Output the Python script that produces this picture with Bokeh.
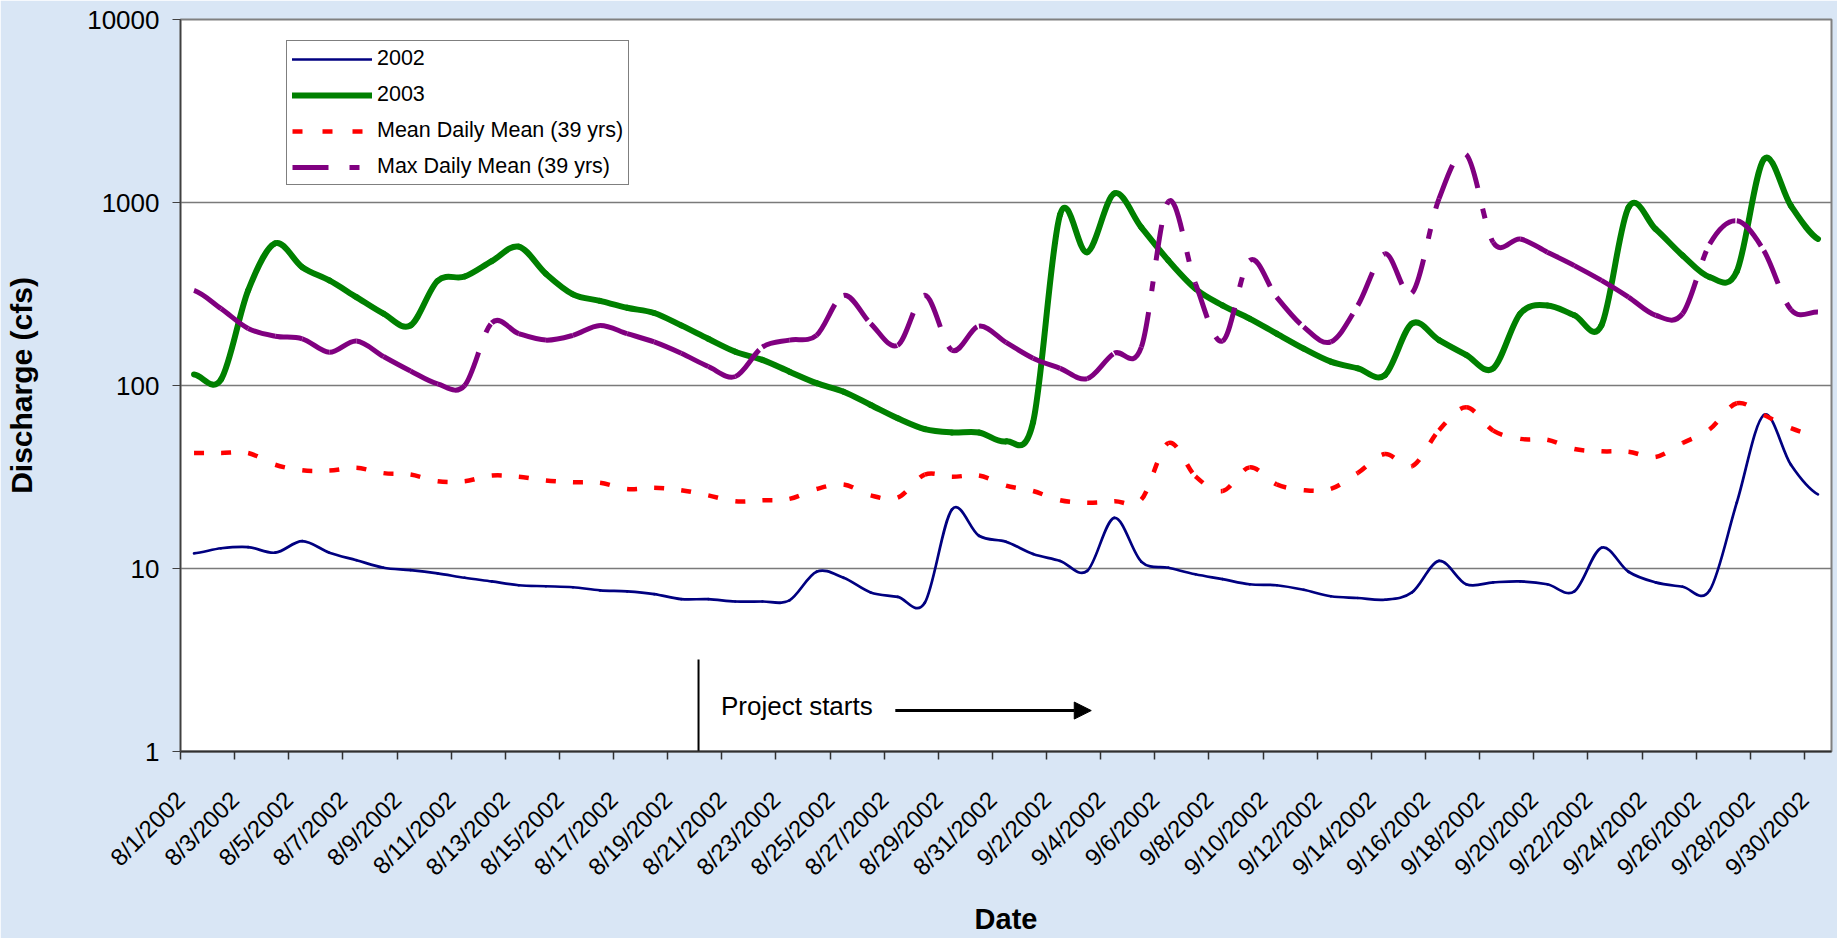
import math
import numpy as np
from bokeh.plotting import figure
from bokeh.models import (ColumnDataSource, Range1d, FixedTicker, NumeralTickFormatter,
                          Legend, LegendItem, Arrow, NormalHead, Label)
from bokeh.embed import file_html
from bokeh.resources import INLINE

# Daily dates, 1 Aug - 30 Sep 2002
dates = [f"8/{d}/2002" for d in range(1, 32)] + [f"9/{d}/2002" for d in range(1, 31)]

# Daily discharge (cfs)
flow_2002 = [12.1, 12.9, 13.1, 12.2, 14.1, 12.2, 11.1, 10.1, 9.8, 9.4,
             8.9, 8.5, 8.1, 8.0, 7.9, 7.6, 7.5, 7.25, 6.8, 6.8,
             6.6, 6.6, 6.7, 9.6, 8.9, 7.4, 7.0, 6.5, 21.0, 15.1,
             14.0, 12.0, 11.0, 9.7, 18.9, 10.9, 10.1, 9.3, 8.75, 8.2,
             8.1, 7.65, 7.05, 6.9, 6.75, 7.4, 11.0, 8.2, 8.4, 8.5,
             8.2, 7.5, 13.0, 9.6, 8.4, 7.95, 7.6, 22.9, 69.0, 36.9,
             25.4]

flow_2003 = [115, 108, 331, 598, 443, 375, 304, 247, 213, 373,
             394, 478, 574, 408, 315, 290, 266, 249, 213, 180,
             153, 138, 119, 103, 92.5, 78.3, 66.2, 57.8, 55.4, 55.4,
             49.5, 63.0, 860, 535, 1120, 731, 482, 338, 274, 232,
             192, 159, 135, 124, 114, 218, 177, 147, 124, 247,
             274, 242, 213, 940, 716, 513, 391, 420, 1720, 960,
             632]

mean_daily_mean = [42.8, 42.8, 42.8, 36.9, 34.4, 34.3, 35.5, 33.2, 32.6, 30.0,
                   30.0, 32.2, 31.7, 30.3, 29.6, 29.4, 27.2, 27.6, 26.8, 25.1,
                   23.3, 23.6, 24.0, 27.2, 28.8, 25.1, 24.4, 32.6, 31.7, 32.2,
                   28.4, 26.5, 23.6, 22.9, 23.3, 23.8, 48.5, 31.9, 26.5, 35.7,
                   28.8, 26.8, 27.2, 33.3, 42.2, 36.2, 57.0, 76.0, 56.7, 51.1,
                   50.5, 45.0, 43.7, 43.5, 40.7, 48.5, 57.7, 80.0, 69.0, 58.5,
                   53.0]

max_daily_mean = [331, 263, 205, 186, 180, 152, 175, 144, 120, 102,
                  100, 220, 192, 177, 188, 213, 192, 173, 150, 127,
                  112, 162, 177, 188, 311, 218, 166, 311, 156, 211,
                  172, 141, 124, 109, 150, 162, 1010, 360, 175, 482,
                  304, 209, 173, 274, 524, 320, 1050, 1833, 605, 632,
                  535, 452, 375, 304, 242, 247, 593, 794, 546, 260,
                  252]

y_ticks = [1, 10, 100, 1000, 10000]
label_days = list(range(0, len(dates), 2))

FONT = "Liberation Sans"
BG = "#d9e6f5"


def smooth_segments(values):
    """Cubic Bezier piece between each pair of consecutive days (drawn at
    the middle of each day's slot), with Catmull-Rom tangents on the log axis."""
    lv = np.log10(np.asarray(values, dtype=float))
    n = len(lv)
    a, b = lv[:-1], lv[1:]
    prev = np.concatenate([[lv[0]], lv[:n - 2]])
    nxt = np.concatenate([lv[2:], [lv[-1]]])
    c0 = a + (b - prev) / 6.0
    c1 = b - (nxt - a) / 6.0
    x = np.arange(n, dtype=float) + 0.5
    return ColumnDataSource(dict(
        x0=x[:-1], y0=10 ** a, x1=x[1:], y1=10 ** b,
        cx0=x[:-1] + 1 / 3, cy0=10 ** c0, cx1=x[:-1] + 2 / 3, cy1=10 ** c1))


p = figure(width=1837, height=938, y_axis_type="log",
           x_range=Range1d(0, len(dates)), y_range=Range1d(1, 10000),
           output_backend="svg", toolbar_location=None,
           min_border_left=180, min_border_right=6,
           min_border_top=19, min_border_bottom=186)

p.background_fill_color = "white"
p.border_fill_color = BG
p.outline_line_color = "#808080"
p.outline_line_width = 2

# grid
p.xgrid.visible = False
p.ygrid.ticker = FixedTicker(ticks=[10, 100, 1000])
p.ygrid.grid_line_color = "#7a7a7a"
p.ygrid.grid_line_width = 1.5

# y axis
p.yaxis.ticker = FixedTicker(ticks=y_ticks)
p.yaxis.formatter = NumeralTickFormatter(format="0")
p.yaxis.major_label_text_font = FONT
p.yaxis.major_label_text_font_size = "26px"
p.yaxis.major_label_text_color = "black"
p.yaxis.major_tick_out = 8
p.yaxis.major_tick_in = 0
p.yaxis.minor_tick_out = 0
p.yaxis.minor_tick_in = 0
p.yaxis.major_tick_line_color = "#404040"
p.yaxis.axis_line_color = "#404040"
p.yaxis.axis_line_width = 1.5
p.yaxis.major_label_standoff = 13
p.yaxis.axis_label = "Discharge (cfs)"
p.yaxis.axis_label_text_font = FONT
p.yaxis.axis_label_text_font_style = "bold"
p.yaxis.axis_label_text_font_size = "30px"
p.yaxis.axis_label_text_color = "black"
p.yaxis.axis_label_standoff = 46

# x axis: a tick and a date label every other day slot
p.xaxis.ticker = FixedTicker(ticks=label_days)
p.xaxis.major_label_overrides = {d: dates[d] for d in label_days}
p.xaxis.major_label_orientation = math.pi / 4
p.xaxis.major_label_text_font = FONT
p.xaxis.major_label_text_font_size = "24px"
p.xaxis.major_label_text_color = "black"
p.xaxis.major_tick_out = 8
p.xaxis.major_tick_in = 0
p.xaxis.minor_tick_out = 0
p.xaxis.minor_tick_in = 0
p.xaxis.major_tick_line_color = "#303030"
p.xaxis.major_tick_line_width = 1.5
p.xaxis.axis_line_color = "#303030"
p.xaxis.axis_line_width = 2
p.xaxis.major_label_standoff = 36
p.xaxis.axis_label = "Date"
p.xaxis.axis_label_text_font = FONT
p.xaxis.axis_label_text_font_style = "bold"
p.xaxis.axis_label_text_font_size = "29px"
p.xaxis.axis_label_text_color = "black"
p.xaxis.axis_label_standoff = 10

# series, drawn as smoothed day-to-day pieces
styles = [
    ("2002", flow_2002, dict(line_color="#000080", line_width=2.7, line_cap="round")),
    ("2003", flow_2003, dict(line_color="#008000", line_width=6, line_cap="round")),
    ("Mean Daily Mean (39 yrs)", mean_daily_mean,
     dict(line_color="#ff0000", line_width=4.5, line_dash="10 20")),
    ("Max Daily Mean (39 yrs)", max_daily_mean,
     dict(line_color="#800080", line_width=5, line_dash="36 21 10 21")),
]

items = []
for name, vals, st in styles:
    p.bezier(x0="x0", y0="y0", x1="x1", y1="y1", cx0="cx0", cy0="cy0",
             cx1="cx1", cy1="cy1", source=smooth_segments(vals), **st)
    # legend key: a line with the same style and no visible points
    key = p.line(x=np.array([0.0, 1.0]), y=np.array([np.nan, np.nan]), **st)
    items.append(LegendItem(label=name, renderers=[key]))

legend = Legend(items=items, location=(106, 566), margin=0, padding=5,
                spacing=11, glyph_width=80, glyph_height=24, label_standoff=5,
                label_text_font=FONT, label_text_font_size="21.5px",
                label_text_color="black", border_line_color="black",
                border_line_width=1, background_fill_color="white",
                background_fill_alpha=1)
p.add_layout(legend)

# project start marker
p.segment(x0=[19.14], y0=[1], x1=[19.14], y1=[3.18], line_color="black", line_width=2)
p.add_layout(Label(x=19.97, y=1.78, text="Project starts", text_font=FONT,
                   text_font_size="26px", text_baseline="middle", text_color="black"))
p.add_layout(Arrow(end=NormalHead(size=17, fill_color="black", line_color="black"),
                   x_start=26.41, y_start=1.674, x_end=33.65, y_end=1.674,
                   line_color="black", line_width=3))

open("out.html", "w").write(file_html(p, INLINE))
